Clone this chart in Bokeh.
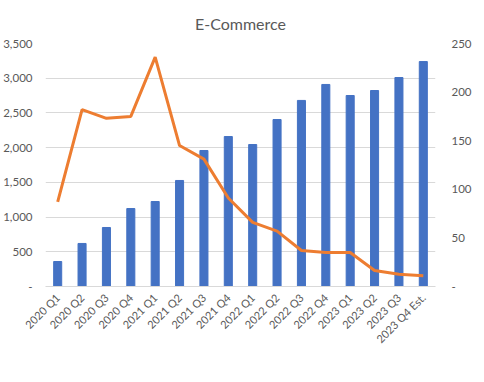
from bokeh.plotting import figure
from bokeh.models import (ColumnDataSource, FactorRange, Range1d, LinearAxis, Legend, LegendItem,
                          FixedTicker, CustomJSTickFormatter)
from bokeh.embed import file_html
from bokeh.resources import INLINE

quarters = ["2020 Q1", "2020 Q2", "2020 Q3", "2020 Q4", "2021 Q1", "2021 Q2", "2021 Q3", "2021 Q4",
            "2022 Q1", "2022 Q2", "2022 Q3", "2022 Q4", "2023 Q1", "2023 Q2", "2023 Q3", "2023 Q4 Est."]
revenue = [360, 620, 850, 1123, 1224, 1527, 1959, 2160, 2045, 2405, 2680, 2910, 2751, 2823, 3010, 3240]
yoy_growth = [87, 182, 173, 175, 236, 145, 131, 91, 66, 57, 37, 35, 35, 16.5, 12.5, 11]
left_ticks = [0, 500, 1000, 1500, 2000, 2500, 3000, 3500]
right_ticks = [0, 50, 100, 150, 200, 250]
chart_title = "E-Commerce"

FONT = "Lato"
GREY = "#595959"

src = ColumnDataSource(dict(q=quarters, rev=revenue, yoy=yoy_growth))

p = figure(x_range=FactorRange(*quarters, range_padding=0), y_range=Range1d(0, 3500),
           frame_width=390, frame_height=243, output_backend="svg", toolbar_location=None,
           min_border_left=42, min_border_right=30, min_border_top=0, min_border_bottom=92,
           title=chart_title)
p.title.align = "center"
p.title.text_font = FONT
p.title.text_font_size = "16px"
p.title.text_font_style = "normal"
p.title.text_color = GREY
p.title.standoff = 22
p.title.offset = 0
p.outline_line_color = None
p.background_fill_color = "white"

p.extra_y_ranges = {"yoy": Range1d(0, 250)}

bars = p.vbar(x="q", top="rev", width=0.33, source=src, color="#4472C4")
line = p.line(x="q", y="yoy", source=src, line_color="#ED7D31", line_width=3,
              y_range_name="yoy")

fmt = CustomJSTickFormatter(code="return tick == 0 ? '-' : tick.toLocaleString('en-US');")

ya = p.yaxis[0]
ya.ticker = FixedTicker(ticks=left_ticks)
ya.formatter = fmt
ya.axis_line_color = None
ya.major_tick_line_color = None
ya.minor_tick_line_color = None
ya.major_tick_out = 0
ya.major_tick_in = 0
ya.major_label_standoff = 13
ya.major_label_text_font = FONT
ya.major_label_text_font_size = "11.5px"
ya.major_label_text_color = GREY

ra = LinearAxis(y_range_name="yoy", ticker=FixedTicker(ticks=right_ticks), formatter=fmt)
ra.axis_line_color = None
ra.major_tick_line_color = None
ra.minor_tick_line_color = None
ra.major_tick_out = 0
ra.major_tick_in = 0
ra.major_label_standoff = 16
ra.major_label_text_font = FONT
ra.major_label_text_font_size = "11.5px"
ra.major_label_text_color = GREY
p.add_layout(ra, "right")

xa = p.xaxis[0]
xa.axis_line_color = "#d9d9d9"
xa.major_tick_line_color = None
xa.minor_tick_line_color = None
xa.major_tick_out = 0
xa.major_tick_in = 0
xa.major_label_orientation = 0.785398
xa.major_label_standoff = 9
xa.major_label_text_font = FONT
xa.major_label_text_font_size = "11px"
xa.major_label_text_color = GREY

p.xgrid.grid_line_color = None
p.ygrid.grid_line_color = "#d9d9d9"
p.ygrid.ticker = FixedTicker(ticks=left_ticks)

legend = Legend(items=[LegendItem(label="Revenue (In Millions of SGD)", renderers=[bars]),
                       LegendItem(label="YOY Growth%", renderers=[line])],
                orientation="horizontal", location=(34, 20))
legend.border_line_color = None
legend.background_fill_alpha = 0
legend.label_text_font = FONT
legend.label_text_font_size = "11px"
legend.label_text_color = GREY
legend.label_height = 14
legend.glyph_width = 25
legend.glyph_height = 7
legend.label_standoff = 15
legend.spacing = 23
legend.padding = 2
legend.margin = 0
p.add_layout(legend, "below")

open("out.html", "w").write(file_html(p, INLINE))
